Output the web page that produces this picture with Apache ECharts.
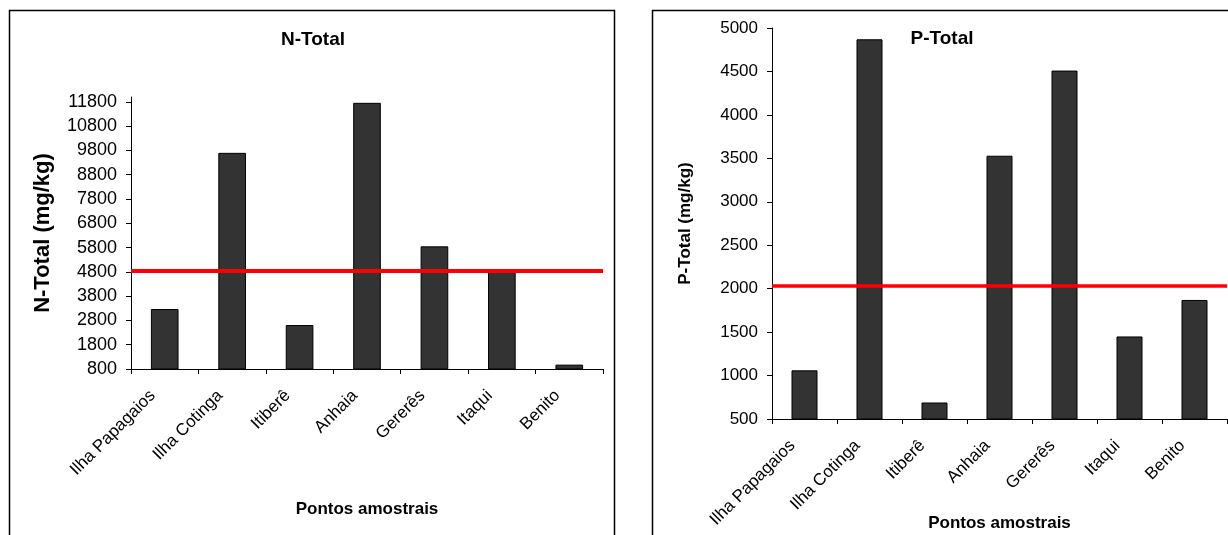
<!DOCTYPE html>
<html>
<head>
<meta charset="utf-8">
<script src="https://cdn.jsdelivr.net/npm/echarts@6/dist/echarts.min.js"></script>
<style>
html,body{margin:0;padding:0;background:#fff;}
#chart{width:1228px;height:535px;}
</style>
</head>
<body>
<div id="chart"></div>
<script>
// ---- data ----
const categories = ['Ilha Papagaios', 'Ilha Cotinga', 'Itiberê', 'Anhaia', 'Gererês', 'Itaqui', 'Benito'];
const nTotal = [3270, 9700, 2610, 11760, 5850, 4850, 980];
const pTotal = [1060, 4870, 690, 3530, 4510, 1450, 1870];
const nLimit = 4860;
const pLimit = 2030;
const nTicks = [800, 1800, 2800, 3800, 4800, 5800, 6800, 7800, 8800, 9800, 10800, 11800];
const pTicks = [500, 1000, 1500, 2000, 2500, 3000, 3500, 4000, 4500, 5000];
const nTitle = 'N-Total';
const pTitle = 'P-Total';
const nAxisName = 'N-Total (mg/kg)';
const pAxisName = 'P-Total (mg/kg)';
const xAxisName = 'Pontos amostrais';

const FONT = '"Liberation Sans", Arial, Helvetica, sans-serif';
const chart = echarts.init(document.getElementById('chart'), null, {renderer: 'canvas'});

function xAxisCfg(gridIndex, nameGap) {
  return {
    type: 'category', gridIndex: gridIndex, data: categories,
    boundaryGap: true,
    axisLine: {show: true, lineStyle: {color: '#000', width: 1}},
    axisTick: {show: true, length: 5, lineStyle: {color: '#000'}},
    axisLabel: {
      rotate: 45, interval: 0, margin: 12, padding: [0, 17, 0, 0],
      fontSize: 17, color: '#000', fontFamily: FONT
    },
    splitLine: {show: false},
    name: xAxisName, nameLocation: 'middle', nameGap: nameGap, nameMoveOverlap: false,
    nameTextStyle: {fontSize: 17, fontWeight: 'bold', color: '#000', fontFamily: FONT}
  };
}
function yAxisCfg(gridIndex, min, max, interval, ticks, name, nameGap, fs, nameFs) {
  return {
    type: 'value', gridIndex: gridIndex, min: min, max: max, interval: interval,
    axisLine: {show: true, lineStyle: {color: '#000', width: 1}},
    axisTick: {show: true, length: 5, lineStyle: {color: '#000'}, customValues: ticks},
    axisLabel: {fontSize: fs, color: '#000', fontFamily: FONT, margin: 14, customValues: ticks,
                formatter: function (v) { return String(v); }},
    splitLine: {show: false},
    name: name, nameLocation: 'middle', nameGap: nameGap, nameMoveOverlap: false,
    nameTextStyle: {fontSize: nameFs, fontWeight: 'bold', color: '#000', fontFamily: FONT}
  };
}

const option = {
  backgroundColor: '#fff',
  animation: false,
  grid: [
    {left: 131, top: 97, width: 472, height: 272, outerBoundsMode: 'none', containLabel: false},
    {left: 772, top: 28, width: 455, height: 391, outerBoundsMode: 'none', containLabel: false}
  ],
  xAxis: [xAxisCfg(0, 132), xAxisCfg(1, 96)],
  yAxis: [
    yAxisCfg(0, 800, 12000, 1000, nTicks, nAxisName, 77, 18, 22),
    yAxisCfg(1, 500, 5000, 500, pTicks, pAxisName, 78, 17, 17)
  ],
  series: [
    {
      type: 'bar', xAxisIndex: 0, yAxisIndex: 0, data: nTotal, barWidth: '41%',
      itemStyle: {color: '#333333', borderColor: '#000', borderWidth: 1},
      markLine: {
        silent: true, symbol: 'none', label: {show: false},
        lineStyle: {color: '#ff0000', width: 4, type: 'solid'},
        data: [{yAxis: nLimit}]
      }
    },
    {
      type: 'bar', xAxisIndex: 1, yAxisIndex: 1, data: pTotal, barWidth: '40%',
      itemStyle: {color: '#333333', borderColor: '#000', borderWidth: 1},
      markLine: {
        silent: true, symbol: 'none', label: {show: false},
        lineStyle: {color: '#ff0000', width: 3.5, type: 'solid'},
        data: [{yAxis: pLimit}]
      }
    }
  ],
  graphic: [
    {type: 'rect', silent: true, shape: {x: 9.5, y: 10.5, width: 605, height: 600},
     style: {fill: 'none', stroke: '#000', lineWidth: 1.5}},
    {type: 'rect', silent: true, shape: {x: 652.5, y: 10.5, width: 600, height: 600},
     style: {fill: 'none', stroke: '#000', lineWidth: 1.5}},
    {type: 'text', x: 313, y: 40, silent: true,
     style: {text: nTitle, align: 'center', verticalAlign: 'middle', fontSize: 19, fontWeight: 'bold', fontFamily: FONT, fill: '#000'}},
    {type: 'text', x: 942, y: 39, silent: true, z: 10,
     style: {text: pTitle, align: 'center', verticalAlign: 'middle', fontSize: 19, fontWeight: 'bold', fontFamily: FONT, fill: '#000'}}
  ]
};
chart.setOption(option);
</script>
</body>
</html>
